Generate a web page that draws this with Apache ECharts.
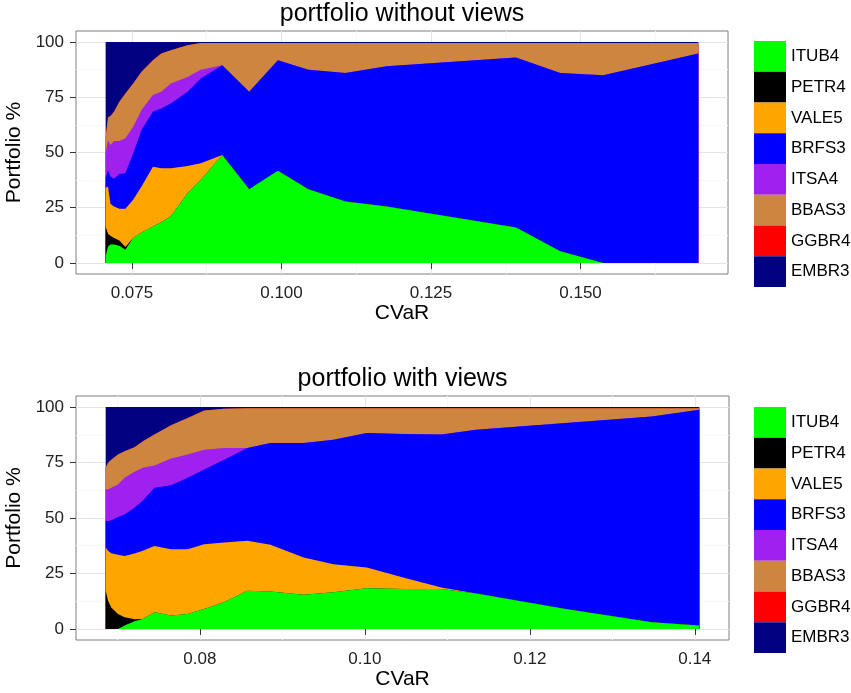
<!DOCTYPE html>
<html><head><meta charset="utf-8">
<script src="https://cdn.jsdelivr.net/npm/echarts@6/dist/echarts.min.js"></script>
<style>html,body{margin:0;padding:0;background:#fff}#c{width:851px;height:693px}</style>
</head><body><div id="c"></div><script>
// ---------- data ----------
const assets = ['ITUB4','PETR4','VALE5','BRFS3','ITSA4','BBAS3','GGBR4','EMBR3'];
const assetColors = ['#00ff00','#000000','#ffa500','#0000ff','#a020f0','#cd853f','#ff0000','#000080'];

const xTicksNoViews = [0.075, 0.100, 0.125, 0.150];
const xMinorNoViews = [0.0625, 0.0875, 0.1125, 0.1375, 0.1625];
const xTicksViews = [0.08, 0.10, 0.12, 0.14];
const xMinorViews = [0.07, 0.09, 0.11, 0.13];
const yTicks = [0, 25, 50, 75, 100];
const yMinor = [12.5, 37.5, 62.5, 87.5];

// portfolio without views
const cvarNoViews = [0.0706,0.0710,0.0714,0.0720,0.0729,0.0739,0.0752,0.0766,0.0785,0.0799,0.0815,0.0843,0.0865,0.0901,0.0946,0.0994,0.1045,0.1107,0.1176,0.1392,0.1466,0.1538,0.1697];
const itub4NoViews = [3.0,7.5,8.3,8.3,7.8,6.0,11.3,13.8,16.5,18.4,21.1,31.6,37.6,48.9,33.4,41.7,33.4,27.8,25.6,16.1,5.3,0,0];
const petr4NoViews = [13.4,5.7,4.0,3.0,2.4,1.2,0,0,0,0,0,0,0,0,0,0,0,0,0,0,0,0,0];
const vale5NoViews = [17.6,21.4,14.5,14.3,14.3,17.3,17.3,20.8,27.1,24.5,21.8,12.3,7.5,0,0,0,0,0,0,0,0,0,0];
const brfs3NoViews = [4.5,7.5,12.3,12.5,15.8,16.1,21.0,25.6,24.8,27.0,29.3,33.6,38.4,40.6,44.1,50.1,54.1,58.2,63.4,76.9,80.7,85.0,94.8];
const itsa4NoViews = [11.1,13.6,14.3,17.1,14.9,15.8,12.1,9.0,7.6,7.6,9.0,6.7,4.0,0,0,0,0,0,0,0,0,0,0];
const bbas3NoViews = [7.3,10.2,13.1,13.2,17.8,20.3,19.5,17.3,15.8,17.3,15.1,14.3,12.1,10.1,22.1,7.8,12.1,13.6,10.6,6.6,13.6,14.6,4.8];
const ggbr4NoViews = [0,0,0,0,0,0,0,0,0,0,0,0,0,0,0,0,0,0,0,0,0,0,0];
const embr3NoViews = [43.1,34.1,33.5,31.6,27.0,23.3,18.8,13.5,8.2,5.2,3.7,1.5,0.4,0.4,0.4,0.4,0.4,0.4,0.4,0.4,0.4,0.4,0.4];

// portfolio with views
const cvarViews = [0.06858,0.06887,0.06926,0.07007,0.07087,0.07207,0.07309,0.07449,0.0765,0.07852,0.08052,0.08293,0.08575,0.08856,0.09258,0.0962,0.10023,0.10465,0.10928,0.1135,0.12435,0.1348,0.14055];
const itub4Views = [0,0,0,0,1.5,3.4,4.5,7.5,6.0,6.7,9.0,12.0,17.2,16.9,15.4,16.5,18.3,18.0,18.0,16.0,9.0,3.0,1.5];
const petr4Views = [17.2,12.7,9.7,6.7,3.7,0.9,0,0,0,0,0,0,0,0,0,0,0,0,0,0,0,0,0];
const vale5Views = [19.5,22.5,24.4,26.7,27.7,29.7,30.7,29.9,29.9,29.2,29.2,26.9,22.5,21.0,16.8,12.7,9.4,5.2,0.7,0,0,0,0];
const brfs3Views = [12.0,13.5,14.9,17.0,18.7,20.6,22.7,26.2,28.9,32.2,33.7,37.4,41.9,45.9,51.6,56.1,60.6,64.7,68.9,73.8,83.8,92.8,97.3];
const itsa4Views = [14.2,14.3,14.6,14.7,16.5,16.2,14.7,10.1,12.0,10.5,8.9,5.3,0,0,0,0,0,0,0,0,0,0,0];
const bbas3Views = [9.7,11.9,12.7,13.5,12.0,11.1,12.0,13.9,15.0,16.5,17.7,17.7,17.9,15.7,15.7,14.2,11.2,11.6,11.9,9.7,6.7,3.7,0.7];
const ggbr4Views = [0,0,0,0,0,0,0,0,0,0,0,0,0,0,0,0,0,0,0,0,0,0,0];
const embr3Views = [27.4,25.1,23.7,21.4,19.9,18.1,15.4,12.4,8.2,4.9,1.5,0.7,0.5,0.5,0.5,0.5,0.5,0.5,0.5,0.5,0.5,0.5,0.5];

// ---------- chart ----------
const FONT = "'Liberation Sans', Arial, Helvetica, sans-serif";
const valuesNoViews = [itub4NoViews, petr4NoViews, vale5NoViews, brfs3NoViews, itsa4NoViews, bbas3NoViews, ggbr4NoViews, embr3NoViews];
const valuesViews = [itub4Views, petr4Views, vale5Views, brfs3Views, itsa4Views, bbas3Views, ggbr4Views, embr3Views];

function expandRange(arr) {
  const lo = Math.min(...arr), hi = Math.max(...arr), pad = (hi - lo) * 0.05;
  return [lo - pad, hi + pad];
}
const r1 = expandRange(cvarNoViews);
const r2 = expandRange(cvarViews);

function mainX(grid, range, ticks, digits) {
  return {
    type: 'value', gridIndex: grid, min: range[0], max: range[1], position: 'bottom',
    axisLine: { show: false },
    axisTick: { show: true, customValues: ticks, length: 6, lineStyle: { color: '#333', width: 1 } },
    axisLabel: { customValues: ticks, formatter: v => v.toFixed(digits), fontSize: 17, color: '#222', margin: 11, fontFamily: FONT },
    splitLine: { show: true, lineStyle: { color: '#e5e5e5', width: 1 } },
    name: 'CVaR', nameLocation: 'middle', nameGap: 28,
    nameTextStyle: { fontSize: 21, color: '#000', fontFamily: FONT }
  };
}
function minorX(grid, range, minors, title) {
  return {
    type: 'value', gridIndex: grid, min: range[0], max: range[1], position: 'top',
    axisLine: { show: false },
    axisTick: { show: false, customValues: minors },
    axisLabel: { show: false, customValues: minors },
    splitLine: { show: true, lineStyle: { color: '#f7f7f7', width: 1 } },
    name: title, nameLocation: 'middle', nameGap: 4,
    nameTextStyle: { fontSize: 25, color: '#000', fontFamily: FONT }
  };
}
function mainY(grid) {
  return {
    type: 'value', gridIndex: grid, min: -5, max: 105, position: 'left',
    axisLine: { show: false },
    axisTick: { show: true, customValues: yTicks, length: 6, lineStyle: { color: '#333', width: 1 } },
    axisLabel: { customValues: yTicks, fontSize: 17, color: '#222', margin: 12, fontFamily: FONT },
    splitLine: { show: true, lineStyle: { color: '#e5e5e5', width: 1 } },
    name: 'Portfolio %', nameLocation: 'middle', nameGap: 41, nameRotate: 90,
    nameTextStyle: { fontSize: 21, color: '#000', fontFamily: FONT }
  };
}
function minorY(grid) {
  return {
    type: 'value', gridIndex: grid, min: -5, max: 105, position: 'right',
    axisLine: { show: false },
    axisTick: { show: false, customValues: yMinor },
    axisLabel: { show: false, customValues: yMinor },
    splitLine: { show: true, lineStyle: { color: '#f7f7f7', width: 1 } }
  };
}
// stacked areas: each layer drawn as the cumulative top of its band, filled to 0;
// upper layers first, lower layers drawn over them.
function makeSeries(cvar, values, xi, yi) {
  const cum = [];
  values.forEach((vals, i) => {
    cum.push(vals.map((v, j) => (i ? cum[i - 1][j] : 0) + v));
  });
  const out = assets.map((name, i) => ({
    name, type: 'line', xAxisIndex: xi, yAxisIndex: yi,
    data: cvar.map((x, j) => [x, +cum[i][j].toFixed(3)]),
    symbol: 'none', showSymbol: false, silent: true,
    lineStyle: { width: 0, opacity: 0 },
    itemStyle: { color: assetColors[i] },
    areaStyle: { color: assetColors[i], opacity: 1, origin: 0 },
    emphasis: { disabled: true }
  }));
  return out.reverse();
}
function makeLegend(top) {
  return {
    orient: 'vertical', left: 754, top, padding: 0, itemGap: 0,
    itemWidth: 32, itemHeight: 30.75, icon: 'rect', selectedMode: false,
    data: assets, itemStyle: { borderWidth: 0 },
    textStyle: { fontSize: 17, color: '#000', fontFamily: FONT }
  };
}

const chart = echarts.init(document.getElementById('c'), null, { renderer: 'canvas' });
chart.setOption({
  animation: false,
  backgroundColor: '#ffffff',
  textStyle: { fontFamily: FONT },
  grid: [
    { left: 76, top: 31, width: 652, height: 243, show: true, borderColor: '#7f7f7f', borderWidth: 1, backgroundColor: '#fff', containLabel: false, outerBoundsMode: 'none' },
    { left: 76, top: 396, width: 653, height: 244, show: true, borderColor: '#7f7f7f', borderWidth: 1, backgroundColor: '#fff', containLabel: false, outerBoundsMode: 'none' }
  ],
  xAxis: [
    mainX(0, r1, xTicksNoViews, 3),
    minorX(0, r1, xMinorNoViews, 'portfolio without views'),
    mainX(1, r2, xTicksViews, 2),
    minorX(1, r2, xMinorViews, 'portfolio with views')
  ],
  yAxis: [mainY(0), minorY(0), mainY(1), minorY(1)],
  legend: [makeLegend(41), makeLegend(407)],
  series: [
    ...makeSeries(cvarNoViews, valuesNoViews, 0, 0),
    ...makeSeries(cvarViews, valuesViews, 2, 2)
  ]
});
</script></body></html>
